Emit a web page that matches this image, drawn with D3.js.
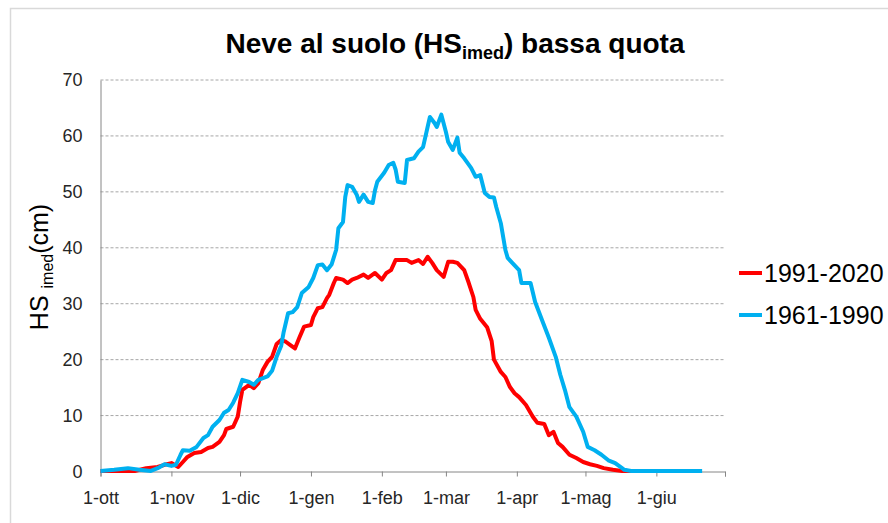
<!DOCTYPE html>
<html>
<head>
<meta charset="utf-8">
<script src="https://cdn.jsdelivr.net/npm/d3@7"></script>
<style>
  body { margin: 0; background: #fff; }
  svg { display: block; font-family: "Liberation Sans Narrow", "Arial Narrow", "Liberation Sans", sans-serif; }
</style>
</head>
<body>
<div id="chart"></div>
<script>
// days from 1 October
var monthDays = [0, 31, 61, 92, 123, 151, 182, 212, 243, 273];
var monthLabels = ["1-ott", "1-nov", "1-dic", "1-gen", "1-feb", "1-mar", "1-apr", "1-mag", "1-giu", ""];
var yTicks = [0, 10, 20, 30, 40, 50, 60, 70];
var seriesNames = ["1991-2020", "1961-1990"];

// 1991-2020 (red)
var daysRecent = [0, 15, 20, 25, 28, 31, 34, 36, 38, 41, 44, 47, 49, 52, 54, 55, 58, 60, 61, 62, 65, 67, 69, 71, 73, 75, 77, 79, 81, 83, 85, 87, 89, 92, 93, 95, 97, 99, 100, 102, 103, 106, 108, 110, 112, 115, 117, 120, 123, 125, 127, 129, 131, 134, 136, 139, 141, 143, 145, 147, 150, 152, 154, 156, 159, 161, 163, 164, 166, 169, 171, 172, 175, 177, 179, 181, 183, 186, 189, 191, 194, 196, 198, 200, 202, 205, 208, 211, 214, 217, 220, 224, 228, 241];
var hsRecent = [0.1, 0.1, 0.6, 0.8, 1.2, 1.5, 0.8, 1.7, 2.6, 3.3, 3.5, 4.2, 4.4, 5.3, 6.5, 7.6, 8.0, 9.8, 12.4, 14.6, 15.5, 14.9, 15.8, 18.2, 19.6, 20.5, 22.8, 23.5, 23.2, 22.6, 22.0, 24.0, 25.9, 26.2, 27.6, 29.2, 29.4, 31.0, 31.6, 33.7, 34.6, 34.3, 33.7, 34.3, 34.6, 35.2, 34.6, 35.5, 34.3, 35.5, 36.0, 37.8, 37.8, 37.8, 37.3, 37.8, 37.1, 38.4, 37.3, 36.0, 34.8, 37.5, 37.5, 37.3, 36.0, 33.7, 31.2, 28.9, 27.3, 25.8, 23.3, 20.0, 17.8, 16.9, 15.1, 14.0, 13.3, 11.9, 9.8, 8.7, 8.5, 6.5, 7.1, 5.1, 4.4, 3.0, 2.4, 1.7, 1.3, 1.0, 0.6, 0.3, 0.1, 0.1];

// 1961-1990 (blue)
var daysOld = [0, 6, 12, 17, 22, 25, 28, 31, 33, 35, 36, 39, 42, 45, 47, 49, 52, 54, 56, 58, 60, 62, 65, 67, 69, 71, 73, 75, 77, 79, 80, 82, 84, 86, 88, 91, 93, 95, 97, 99, 101, 103, 104, 106, 107, 108, 110, 112, 113, 115, 117, 119, 120, 121, 124, 126, 128, 129, 130, 133, 134, 137, 139, 141, 143, 144, 146, 147, 149, 151, 152, 154, 156, 157, 159, 162, 164, 166, 168, 170, 172, 173, 175, 177, 178, 180, 183, 184, 188, 190, 193, 196, 199, 201, 203, 205, 208, 211, 213, 216, 219, 222, 225, 228, 229, 232, 263];
var hsOld = [0.1, 0.3, 0.6, 0.3, 0.1, 0.6, 1.3, 1.0, 1.2, 3.0, 3.8, 3.7, 4.4, 6.0, 6.5, 8.0, 9.2, 10.5, 11.0, 12.3, 14.0, 16.4, 16.0, 15.5, 16.4, 16.7, 17.0, 18.0, 20.5, 22.5, 24.8, 28.3, 28.5, 29.4, 31.9, 33.0, 34.6, 36.9, 37.0, 36.0, 37.0, 39.6, 43.5, 44.6, 49.1, 51.2, 50.9, 49.5, 48.2, 49.5, 48.2, 48.0, 50.3, 51.8, 53.4, 54.8, 55.2, 54.0, 51.8, 51.6, 55.7, 56.0, 57.2, 58.0, 61.6, 63.4, 62.3, 61.6, 63.8, 60.7, 58.9, 57.5, 59.7, 57.0, 56.0, 54.3, 52.7, 53.0, 49.8, 49.1, 49.0, 47.3, 44.4, 39.6, 38.2, 37.3, 36.0, 33.7, 33.7, 30.3, 27.1, 23.9, 20.5, 17.3, 14.6, 11.5, 9.8, 7.1, 4.4, 3.8, 3.0, 2.0, 1.5, 0.6, 0.3, 0.1, 0.1];

var colors = ["#ff0000", "#00b0f0"];

var svgWidth = 888;
var svgHeight = 523;
var margin = { top: 80, right: 163, bottom: 51.5, left: 100.5 };
var chartWidth = svgWidth - margin.left - margin.right;
var chartHeight = svgHeight - margin.top - margin.bottom;

var svg = d3.select("#chart").append("svg")
  .attr("width", svgWidth)
  .attr("height", svgHeight);

// chart frame (only top and left edge visible in the picture)
svg.append("rect")
  .attr("x", 10.5).attr("y", 8.5)
  .attr("width", 900).attr("height", 600)
  .attr("fill", "none")
  .attr("stroke", "#d9d9d9")
  .attr("stroke-width", 1.5);

var g = svg.append("g")
  .attr("transform", `translate(${margin.left}, ${margin.top})`);

var x = d3.scaleLinear().domain([0, 273]).range([0, chartWidth]);
var y = d3.scaleLinear().domain([0, 70]).range([chartHeight, 0]);

// gridlines
g.append("g")
  .selectAll("line")
  .data(yTicks.filter(d => d > 0))
  .enter().append("line")
  .attr("x1", 0).attr("x2", chartWidth)
  .attr("y1", d => y(d)).attr("y2", d => y(d))
  .attr("stroke", "#a6a6a6")
  .attr("stroke-dasharray", "3,2")
  .attr("stroke-width", 1);

// y axis
var yAxis = g.append("g")
  .call(d3.axisLeft(y).tickValues(yTicks).tickSize(0).tickPadding(18));
yAxis.select(".domain").attr("stroke", "#868686");
yAxis.selectAll("text")
  .style("font-size", "18px")
  .attr("fill", "#262626");

// x axis
var xAxis = g.append("g")
  .attr("transform", `translate(0, ${chartHeight})`)
  .call(d3.axisBottom(x).tickValues(monthDays).tickSize(5).tickPadding(15)
    .tickFormat((d, i) => monthLabels[i]));
xAxis.select(".domain").attr("stroke", "#868686");
xAxis.selectAll("line").attr("stroke", "#868686");
xAxis.selectAll("text")
  .style("font-size", "18px")
  .attr("fill", "#262626");

// lines
var line = d3.line()
  .x(d => x(d[0]))
  .y(d => y(d[1]));

var series = [
  d3.zip(daysRecent, hsRecent),
  d3.zip(daysOld, hsOld)
];

// draw blue last so it sits on top, as in the picture
[0, 1].forEach(function(i) {
  g.append("path")
    .datum(series[i])
    .attr("fill", "none")
    .attr("stroke", colors[i])
    .attr("stroke-width", 4)
    .attr("stroke-linejoin", "round")
    .attr("d", line);
});

// title
var title = svg.append("text")
  .attr("x", 455)
  .attr("y", 53)
  .attr("text-anchor", "middle")
  .style("font-size", "28px")
  .style("font-weight", "bold")
  .attr("fill", "#000");
title.append("tspan").text("Neve al suolo (HS");
title.append("tspan").attr("dy", 6).style("font-size", "18px").text("imed");
title.append("tspan").attr("dy", -6).text(") bassa quota");

// y axis label
var ylab = svg.append("text")
  .attr("transform", "translate(48, 267) rotate(-90)")
  .attr("text-anchor", "middle")
  .style("font-size", "25px")
  .attr("fill", "#000");
ylab.append("tspan").text("HS ");
ylab.append("tspan").attr("dy", 5).style("font-size", "16px").text("imed");
ylab.append("tspan").attr("dy", -5).text("(cm)");

// legend
var legend = svg.append("g");
seriesNames.forEach(function(name, i) {
  var ly = 273 + i * 42;
  legend.append("line")
    .attr("x1", 739).attr("x2", 762)
    .attr("y1", ly).attr("y2", ly)
    .attr("stroke", colors[i])
    .attr("stroke-width", 4);
  legend.append("text")
    .attr("x", 764)
    .attr("y", ly + 9)
    .style("font-size", "25px")
    .attr("fill", "#000")
    .text(name);
});
</script>
</body>
</html>
